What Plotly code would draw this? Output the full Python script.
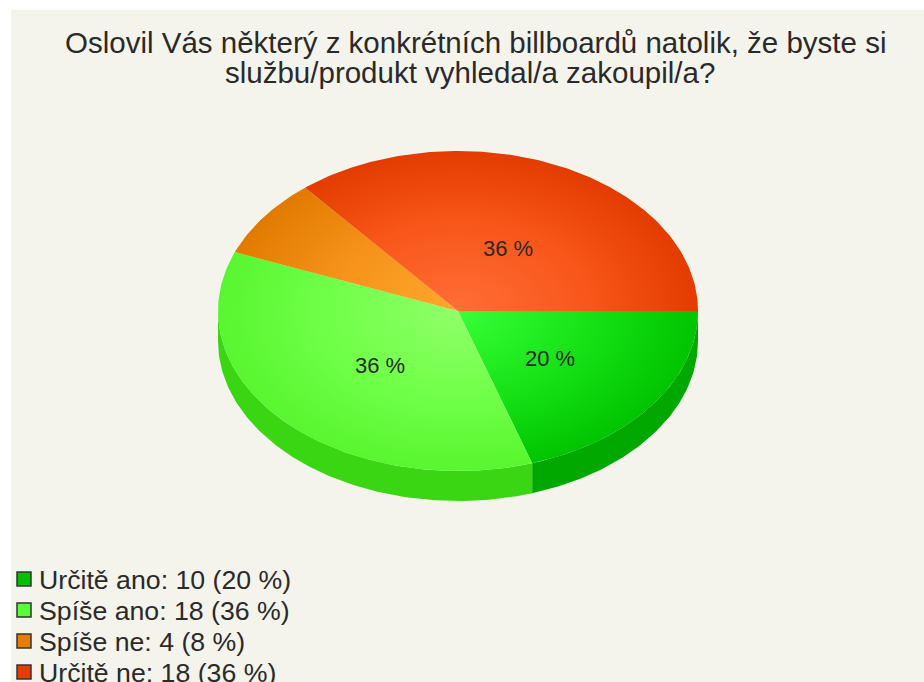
import numpy as np
import plotly.graph_objects as go

categories = ["Určitě ano", "Spíše ano", "Spíše ne", "Určitě ne"]
counts = [10, 18, 4, 18]
percents = [20, 36, 8, 36]
show_label = [True, True, False, True]
title_lines = ["Oslovil Vás některý z konkrétních billboardů natolik, že byste si",
               "službu/produkt vyhledal/a zakoupil/a?"]
swatch_colors = ["#00C000", "#55FF33", "#E67E00", "#E63C00"]
center_colors = ["#38FF38", "#90FF68", "#FFA82C", "#FF6E36"]
mid_colors = ["#16E216", "#70FF48", "#F5921A", "#F8561A"]
edge_colors = ["#00C400", "#58F630", "#E27A00", "#E43C00"]
side_colors = ["#00A800", "#3AD614", "#B86000", "#B82C00"]

CX, CY, RX, RY, DEPTH = 458, 311, 240, 160, 30
BG = "#F4F4EC"
FONT = "Liberation Sans"
TEXT = "#2A2A2A"

fig = go.Figure()
fracs = np.cumsum([0] + counts) / sum(counts) * 2 * np.pi


def arc(a0, a1, dy=0.0):
    n = max(int((a1 - a0) * 60), 2)
    t = np.linspace(a0, a1, n)
    return CX + RX * np.cos(t), CY + RY * np.sin(t) + dy


# visible side wall (front half only)
for i in range(4):
    a0, a1 = fracs[i], min(fracs[i + 1], np.pi)
    if a1 <= a0:
        continue
    xt, yt = arc(a0, a1)
    xb, yb = arc(a0, a1, DEPTH)
    fig.add_trace(go.Scatter(
        x=np.r_[xt, xb[::-1], xt[0]], y=np.r_[yt, yb[::-1], yt[0]],
        mode="lines", line=dict(width=0), fill="toself",
        fillcolor=side_colors[i], hoverinfo="skip", showlegend=False))

# top face; zero-area spikes stretch each slice's box to the whole ellipse
for i in range(4):
    xa, ya = arc(fracs[i], fracs[i + 1])
    xs = np.r_[CX, xa, CX, CX + RX, CX, CX - RX, CX, CX, CX, CX, CX]
    ys = np.r_[CY, ya, CY, CY, CY, CY, CY, CY + RY, CY, CY - RY, CY]
    fig.add_trace(go.Scatter(
        x=xs, y=ys, mode="lines", line=dict(width=0), fill="toself",
        fillcolor=edge_colors[i],
        fillgradient=dict(type="radial",
                          colorscale=[[0, center_colors[i]], [0.55, mid_colors[i]],
                                      [1, edge_colors[i]]]),
        hoverinfo="skip", showlegend=False))

annotations = []
for i in range(4):
    if show_label[i]:
        mid = (fracs[i] + fracs[i + 1]) / 2
        annotations.append(dict(
            x=CX + 0.46 * RX * np.cos(mid) + 2.5, y=CY + 0.46 * RY * np.sin(mid) + 4,
            text=f"{percents[i]} %", showarrow=False, xanchor="center", yanchor="middle",
            font=dict(family=FONT, size=22, color=TEXT)))

title_x = [475, 470]
for k, line in enumerate(title_lines):
    annotations.append(dict(x=title_x[k], y=42 + 30 * k, text=line, showarrow=False,
                            xanchor="center", yanchor="middle",
                            font=dict(family=FONT, size=29.5, color=TEXT)))

legend_y = [580, 611, 642, 673]
for i in range(4):
    annotations.append(dict(x=37, y=legend_y[i],
                            text=f"{categories[i]}: {counts[i]} ({percents[i]} %)",
                            showarrow=False, xanchor="left", yanchor="middle",
                            font=dict(family=FONT, size=26.7, color=TEXT)))

fig.add_trace(go.Scatter(
    x=[24] * 4, y=[y - 1 for y in legend_y], mode="markers",
    marker=dict(symbol="square", size=14, color=swatch_colors,
                line=dict(color="#333333", width=1.5)),
    hoverinfo="skip", showlegend=False))

fig.update_layout(
    width=924, height=682, margin=dict(l=0, r=0, t=0, b=0),
    paper_bgcolor="white", plot_bgcolor="white", showlegend=False,
    xaxis=dict(range=[0, 924], visible=False, fixedrange=True),
    yaxis=dict(range=[682, 0], visible=False, fixedrange=True),
    annotations=annotations,
    shapes=[dict(type="rect", x0=11, x1=924, y0=10, y1=682, layer="below",
                 fillcolor=BG, line=dict(width=0))],
)
fig.write_html("out.html", config={"displayModeBar": False},
               post_script="document.body.style.margin='0';document.documentElement.style.overflow='hidden';")
